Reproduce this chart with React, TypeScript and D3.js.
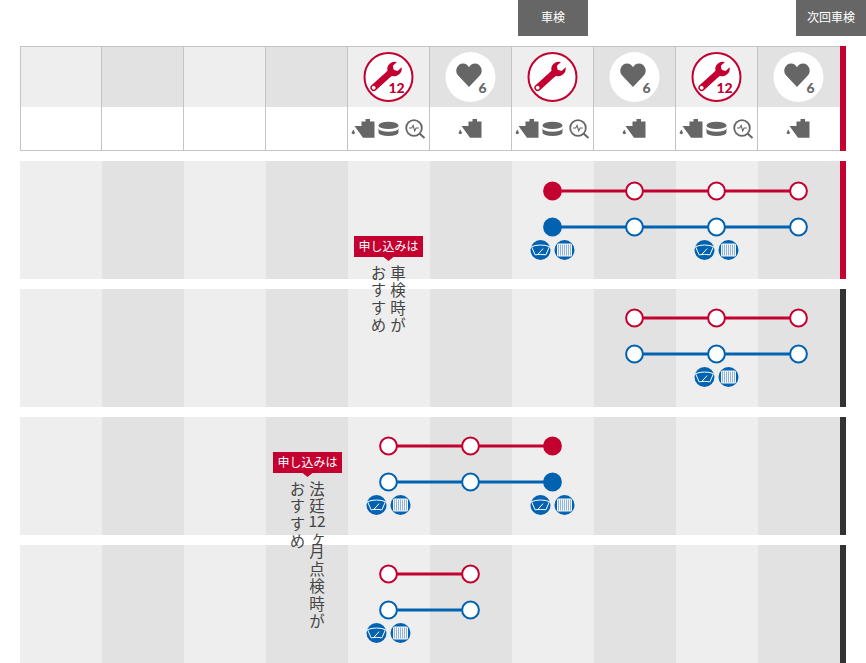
import React from 'react';
import * as d3 from 'd3';

const WIDTH = 866;
const HEIGHT = 663;

const RED = '#c3002f';
const BLUE = '#0062b1';
const DARK = '#333333';
const GREY = '#666666';
const FONT = '"Noto Sans CJK JP", "Noto Sans", sans-serif';

// one entry per half-year column, null = nothing scheduled
const columns = [0, 1, 2, 3, 4, 5, 6, 7, 8, 9];
const checkTypes = [null, null, null, null, '12', '6', 'shaken', '6', '12', '6'];
const topLabels = [
  { column: 6, text: '車検', offset: 0 },
  { column: 9, text: '次回車検', offset: 32 },
];

const planRows = [0, 1, 2, 3];
const rowAccents = [RED, DARK, DARK, DARK];
const redPoints = [[6, 7, 8, 9], [7, 8, 9], [4, 5, 6], [4, 5]];
const bluePoints = [[6, 7, 8, 9], [7, 8, 9], [4, 5, 6], [4, 5]];
const filledPoints = [6, null, 6, null];
const partsPoints = [[6, 8], [8], [4, 6], [4]];

const calloutTitle = '申し込みは';
const calloutRows = [
  { row: 0, column: 4, lines: [['車検時が'], ['おすすめ']] },
  { row: 2, column: 3, lines: [['法廷', '12', 'ヶ', '月点検時が'], ['おすすめ']] },
];

const x = d3.scaleBand<number>().domain(columns).range([20, 840]);
const y = d3.scaleBand<number>().domain(planRows).range([161, 663]).paddingInner(10 / 128);
const cx = (c: number) => (x(c) || 0) + x.bandwidth() / 2 - 0.5;
const band = (c: number) => (c % 2 === 0 ? '#eeeeee' : '#e2e2e2');

function Wrench({ color }: { color: string }) {
  return (
    <g transform="translate(2.3,-4.7) rotate(48)" fill={color}>
      <path d="M-3.2 4 L-3.2 1.5 A7.4 7.4 0 0 1 -3.5 -11.4 L-3.5 -6 L0 -3.8 L3.5 -6 L3.5 -11.4 A7.4 7.4 0 0 1 3.2 1.5 L3.2 4 Z" />
      <line x1={0} y1={2} x2={0} y2={23} stroke={color} strokeWidth={6.6} strokeLinecap="round" />
      <circle cx={0} cy={23} r={1.9} fill="#fff" />
    </g>
  );
}

function OilCan() {
  return (
    <g fill={GREY}>
      <path d="M-12 4 L-10.2 0.4 L-8.4 4 A2 2 0 0 1 -12 4 Z" />
      <path d="M-9 -3 L-2 -3 L-2 -7.6 L2 -7.6 L2 -10 L6.5 -10 L6.5 -7.6 L11 -7.6 L11 8.7 L-0.5 8.7 Z" />
    </g>
  );
}

function Disk() {
  return (
    <g fill={GREY}>
      <ellipse cx={0} cy={-3.6} rx={10} ry={3.6} />
      <path d="M-10 -0.8 A10 3.6 0 0 0 10 -0.8 L10 3.4 A10 3.6 0 0 1 -10 3.4 Z" />
    </g>
  );
}

function Scope() {
  return (
    <g fill="none" stroke={GREY}>
      <circle cx={-1.5} cy={-1} r={7.8} strokeWidth={1.8} />
      <path d="M-6.5 -1 L-3.8 -1 L-2.4 -3.6 L-0.8 2 L0.6 -1 L3.4 -1" strokeWidth={1.1} />
      <line x1={4} y1={4.6} x2={9} y2={9} strokeWidth={2} />
    </g>
  );
}

function CheckBadge({ type, c }: { type: string | null; c: number }) {
  if (!type) return null;
  const isSix = type === '6';
  return (
    <g transform={`translate(${cx(c)},77)`}>
      {isSix ? (
        <>
          <circle r={25} fill="#fff" />
          <path
            d="M0 12 L-10.6 0.8 C-15.2 -4 -11.8 -11.6 -6 -11.6 C-3.4 -11.6 -1.1 -10.2 0 -7.8 C1.1 -10.2 3.4 -11.6 6 -11.6 C11.8 -11.6 15.2 -4 10.6 0.8 Z"
            transform="translate(-1.5,-2)"
            fill={GREY}
          />
          <text x={12} y={15.5} textAnchor="middle" fontSize={14} fontWeight={900} fontFamily="Lato, Roboto, sans-serif" fill={GREY}>6</text>
        </>
      ) : (
        <>
          <circle r={24} fill="#fff" stroke={RED} strokeWidth={2} />
          <Wrench color={RED} />
          {type === '12' && (
            <text x={8} y={15.5} textAnchor="middle" fontSize={14} fontWeight={900} fontFamily="Lato, Roboto, sans-serif" fill={RED}>12</text>
          )}
        </>
      )}
    </g>
  );
}

function WiperIcon({ px, py }: { px: number; py: number }) {
  return (
    <g transform={`translate(${px},${py})`}>
      <circle r={10} fill={BLUE} />
      <path d="M-9 -3.4 Q0 -6.6 9 -3.4 L5.4 4.8 Q0 4 -5.4 4.8 Z" fill="none" stroke="#fff" strokeWidth={1} />
      <line x1={-2.5} y1={4.2} x2={2.6} y2={-1.4} stroke="#fff" strokeWidth={1} />
    </g>
  );
}

function BatteryIcon({ px, py }: { px: number; py: number }) {
  const bars = d3.range(-6, 7, 2);
  return (
    <g transform={`translate(${px},${py})`}>
      <circle r={10} fill={BLUE} />
      <rect x={-7.5} y={-6.5} width={15} height={13} rx={1.5} fill="#f2f6fb" />
      {bars.map(b => (
        <rect key={b} x={b - 0.5} y={-5.5} width={1} height={11} fill="#8fb3da" />
      ))}
    </g>
  );
}

function Station({ points, filled, py, color }: { points: number[]; filled: number | null; py: number; color: string }) {
  const line = d3.line<number>().x(d => cx(d)).y(() => py);
  return (
    <g>
      <path d={line(points) || ''} fill="none" stroke={color} strokeWidth={3} />
      {points.map(p => (
        <circle
          key={p}
          cx={cx(p)}
          cy={py}
          r={8.4}
          fill={p === filled ? color : '#fff'}
          stroke={color}
          strokeWidth={2}
        />
      ))}
    </g>
  );
}

export default function App() {
  return (
    <svg
      width={WIDTH}
      height={HEIGHT}
      viewBox={`0 0 ${WIDTH} ${HEIGHT}`}
      style={{ position: 'absolute', left: 0, top: 0, display: 'block', background: '#fff' }}
      fontFamily={FONT}
    >
      {/* top labels */}
      {topLabels.map(d => {
        const mid = cx(d.column) + 0.5 + d.offset;
        return (
          <g key={d.column}>
            <rect x={mid - 35} y={0} width={70} height={36} fill={GREY} />
            <text x={mid} y={18} dy=".35em" textAnchor="middle" fontSize={12} fill="#fff">{d.text}</text>
          </g>
        );
      })}

      {/* header grid */}
      {columns.map(c => (
        <rect key={c} x={x(c)} y={47} width={x.bandwidth()} height={60} fill={band(c)} />
      ))}
      <rect x={20.5} y={46.5} width={820} height={104} fill="none" stroke="#c4c4c4" />
      {columns.slice(1).map(c => (
        <line key={c} x1={(x(c) || 0) - 0.5} x2={(x(c) || 0) - 0.5} y1={46} y2={151} stroke="#c4c4c4" />
      ))}
      <rect x={840} y={46} width={6} height={105} fill={RED} />

      {checkTypes.map((t, i) => (
        <CheckBadge key={i} type={t} c={i} />
      ))}
      {checkTypes.map((t, i) => {
        if (!t) return null;
        if (t === '6') {
          return <g key={i} transform={`translate(${cx(i)},129)`}><OilCan /></g>;
        }
        return (
          <g key={i}>
            <g transform={`translate(${cx(i) - 25},129)`}><OilCan /></g>
            <g transform={`translate(${cx(i)},129)`}><Disk /></g>
            <g transform={`translate(${cx(i) + 27},129)`}><Scope /></g>
          </g>
        );
      })}

      {/* plan rows */}
      {planRows.map(r => {
        const top = y(r) || 0;
        const shift = r === 0 ? 1 : 0;
        return (
          <g key={r}>
            {columns.map(c => (
              <rect key={c} x={x(c)} y={top} width={x.bandwidth()} height={y.bandwidth()} fill={band(c)} />
            ))}
            <rect x={840} y={top} width={6} height={y.bandwidth()} fill={rowAccents[r]} />
            <Station points={redPoints[r]} filled={filledPoints[r]} py={top + 29 + shift} color={RED} />
            <Station points={bluePoints[r]} filled={filledPoints[r]} py={top + 65 + shift} color={BLUE} />
            {partsPoints[r].map(p => (
              <g key={p}>
                <WiperIcon px={cx(p) - 12} py={top + 88 + shift} />
                <BatteryIcon px={cx(p) + 12} py={top + 88 + shift} />
              </g>
            ))}
          </g>
        );
      })}

      {/* callouts */}
      {calloutRows.map(d => {
        const top = (y(d.row) || 0) + (d.row === 0 ? 75 : 35);
        const mid = cx(d.column) + (d.row === 0 ? 0 : 1);
        return (
          <g key={d.row}>
            <rect x={mid - 34.5} y={top} width={69} height={21} fill={RED} />
            <path d={`M${mid - 5} ${top + 21} L${mid} ${top + 25} L${mid + 5} ${top + 21} Z`} fill={RED} />
            <text x={mid} y={top + 10.5} dy=".35em" textAnchor="middle" fontSize={12} fill="#fff">{calloutTitle}</text>
            {d.lines.map((parts, li) => {
              const lx = mid + (li === 0 ? 9.5 : -10);
              let pos = top + 29;
              return parts.map((part, pi) => {
                const start = pos;
                if (part === '12') {
                  pos += 15;
                  return (
                    <text key={pi} x={lx} y={start + 5.5} dy=".35em" textAnchor="middle" fontSize={15.5} fill="#444">{part}</text>
                  );
                }
                pos += part === 'ヶ' ? 12 : part.length * 17.5 + 0.5;
                return (
                  <text
                    key={pi}
                    x={lx}
                    y={start}
                    fontSize={15.5}
                    letterSpacing={2}
                    fill="#444"
                    style={{ writingMode: 'vertical-rl' }}
                  >
                    {part}
                  </text>
                );
              });
            })}
          </g>
        );
      })}
    </svg>
  );
}
